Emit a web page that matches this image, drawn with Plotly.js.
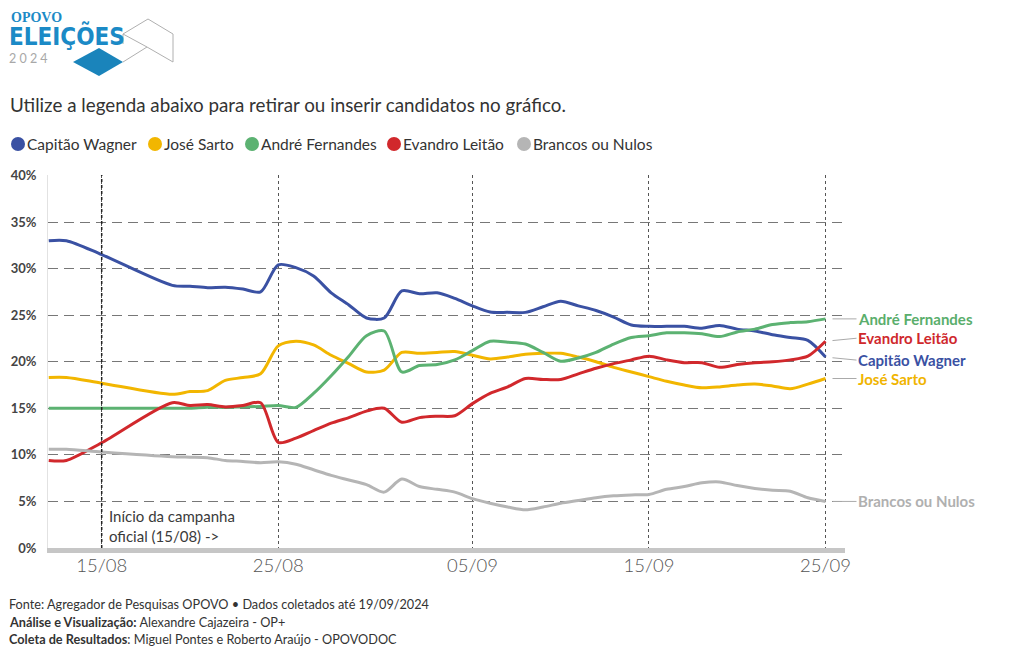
<!DOCTYPE html>
<html><head><meta charset="utf-8">
<script src="https://cdn.plot.ly/plotly-3.0.1.min.js"></script>
<style>html,body{margin:0;padding:0;background:#fff}#chart{width:1020px;height:650px}</style>
</head><body><div id="chart"></div>
<script>
// ---------- DATA ----------
const dates = ['2024-08-12','2024-08-13','2024-08-15','2024-08-19','2024-08-20','2024-08-21','2024-08-22','2024-08-23','2024-08-24','2024-08-25','2024-08-26','2024-08-27','2024-08-28','2024-08-29','2024-08-30','2024-08-31','2024-09-01','2024-09-02','2024-09-03','2024-09-04','2024-09-05','2024-09-06','2024-09-07','2024-09-08','2024-09-09','2024-09-10','2024-09-11','2024-09-12','2024-09-13','2024-09-14','2024-09-15','2024-09-16','2024-09-17','2024-09-18','2024-09-19','2024-09-20','2024-09-21','2024-09-22','2024-09-23','2024-09-24','2024-09-25'];
const capitaoWagner = [33.0,33.0,31.5,28.2,28.1,27.95,28.0,27.8,27.5,30.4,30.1,29.2,27.4,26.1,24.7,24.7,27.6,27.3,27.4,26.8,26.0,25.35,25.3,25.3,25.9,26.5,26.0,25.5,24.8,23.95,23.8,23.8,23.8,23.6,23.9,23.5,23.3,22.9,22.6,22.3,20.5];
const joseSarto = [18.3,18.3,17.7,16.5,16.8,16.9,18.0,18.3,18.7,21.7,22.2,21.8,20.7,19.8,18.9,19.1,21.0,20.9,21.0,21.1,20.7,20.3,20.5,20.8,20.9,20.9,20.5,20.0,19.4,18.9,18.4,17.9,17.5,17.2,17.3,17.5,17.6,17.4,17.1,17.6,18.2];
const andreFernandes = [15.0,15.0,15.0,15.0,15.0,15.1,15.1,15.15,15.2,15.3,15.1,16.6,18.5,20.6,22.8,23.3,18.9,19.6,19.7,20.2,21.2,22.2,22.1,21.9,21.0,20.05,20.4,21.0,21.9,22.6,22.8,23.1,23.1,23.0,22.7,23.2,23.5,24.0,24.2,24.3,24.6];
const evandroLeitao = [9.4,9.4,11.3,15.6,15.3,15.4,15.15,15.3,15.6,11.35,11.8,12.6,13.4,14.0,14.7,15.0,13.5,14.0,14.15,14.2,15.5,16.6,17.3,18.2,18.1,18.1,18.7,19.3,19.8,20.2,20.6,20.2,19.9,19.9,19.4,19.7,19.9,20.0,20.2,20.6,22.2];
const brancosNulos = [10.6,10.6,10.3,9.8,9.75,9.7,9.4,9.3,9.15,9.25,9.0,8.4,7.8,7.3,6.8,6.0,7.4,6.6,6.3,6.0,5.3,4.8,4.4,4.1,4.4,4.8,5.1,5.4,5.6,5.7,5.75,6.3,6.6,7.0,7.1,6.7,6.4,6.2,6.1,5.4,5.0];

const seriesNames = ['Capitão Wagner','José Sarto','André Fernandes','Evandro Leitão','Brancos ou Nulos'];
const seriesValues = [capitaoWagner, joseSarto, andreFernandes, evandroLeitao, brancosNulos];
const seriesColors = ['#3a51a3','#f2b600','#5cb272','#d1282c','#b5b5b5'];
const labelColors = ['#3a51a3','#f0b400','#5aae6c','#cf282c','#b0b0b0'];
const labelShift = [-3, 0, 0, 3, 0]; // pixel nudges of end labels (positive = up)

const tickDates = ['2024-08-15','2024-08-25','2024-09-05','2024-09-15','2024-09-25'];
const tickLabels = ['15/08','25/08','05/09','15/09','25/09'];
const campaignStart = '2024-08-15';

const subtitle = 'Utilize a legenda abaixo para retirar ou inserir candidatos no gráfico.';
const campaignNote = 'Início da campanha<br>oficial (15/08) ->';
const footer = [
  'Fonte: Agregador de Pesquisas OPOVO • Dados coletados até 19/09/2024',
  '<b>Análise e Visualização:</b> Alexandre Cajazeira - OP+',
  '<b>Coleta de Resultados</b>: Miguel Pontes e Roberto Araújo - OPOVODOC'
];

// ---------- LAYOUT HELPERS ----------
const FONT = 'Lato, "Noto Sans", sans-serif';
const L = 48, R = 845, T = 175, B = 548;
const px = x => (x - L) / (R - L);
const py = y => (B - y) / (B - T);
const ADX = -3;                       // annotation text inset compensation (px)
const legendX = [18, 155, 252, 394, 524]; // legend dot centres (px)
const legendY = 144;

const traces = seriesNames.map((name, i) => ({
  type: 'scatter', mode: 'lines', name: name, x: dates, y: seriesValues[i],
  line: {color: seriesColors[i], width: 3, shape: 'spline', smoothing: 0.8},
  showlegend: false,
  hovertemplate: name + ': %{y:.1f}%<extra></extra>'
}));

const annotations = [];
const shapes = [];
const endLabelIdx = [], legendTextIdx = [], legendDotIdx = [];

// end labels
seriesNames.forEach((name, i) => {
  const vals = seriesValues[i];
  endLabelIdx.push(annotations.length);
  annotations.push({
    x: dates[dates.length - 1], y: vals[vals.length - 1], xref: 'x', yref: 'y',
    text: '<b>' + name + '</b>', showarrow: true, arrowhead: 0, arrowwidth: 1,
    arrowcolor: '#aaaaaa', ax: 31, ay: -labelShift[i], standoff: 7,
    xanchor: 'left', yanchor: 'middle', borderpad: 0,
    font: {family: FONT, size: 15, color: labelColors[i]}
  });
});
// custom legend (clickable)
seriesNames.forEach((name, i) => {
  legendDotIdx.push(shapes.length);
  shapes.push({type: 'circle', xref: 'paper', yref: 'paper',
    x0: px(legendX[i] - 7), x1: px(legendX[i] + 7), y0: py(legendY + 7), y1: py(legendY - 7),
    fillcolor: seriesColors[i], line: {width: 0}});
  legendTextIdx.push(annotations.length);
  annotations.push({x: px(legendX[i] + 10), y: py(legendY), xref: 'paper', yref: 'paper', xshift: ADX,
    text: name, showarrow: false, xanchor: 'left', yanchor: 'middle', captureevents: true,
    font: {family: FONT, size: 15.5, color: '#333'}});
});
// campaign note
annotations.push({
  x: campaignStart, y: py(526), xref: 'x', yref: 'paper', xshift: 8 + ADX,
  text: campaignNote, showarrow: false, xanchor: 'left', yanchor: 'middle', align: 'left',
  font: {family: FONT, size: 15, color: '#3a3a3a'}
});
// footer
footer.forEach((t, k) => {
  annotations.push({
    x: px(10), y: py(604 + k * 17.5), xref: 'paper', yref: 'paper', xshift: ADX, text: t, showarrow: false,
    xanchor: 'left', yanchor: 'middle', align: 'left',
    font: {family: FONT, size: 12.7, color: '#333'}
  });
});
// logo text
annotations.push({x: px(12), y: py(18), xref: 'paper', yref: 'paper', xshift: ADX, text: '<b>OPOVO</b>', showarrow: false,
  xanchor: 'left', yanchor: 'middle', font: {family: '"Liberation Serif", "DejaVu Serif", serif', size: 14, color: '#1b8ac6'}});
annotations.push({x: px(10), y: py(35.5), xref: 'paper', yref: 'paper', xshift: ADX, text: '<b>ELEIÇÕES</b>', showarrow: false,
  xanchor: 'left', yanchor: 'middle', font: {family: '"Liberation Sans Narrow", "DejaVu Sans Condensed", Roboto, sans-serif', size: 24, color: '#1b8ac6'}});
annotations.push({x: px(10), y: py(58), xref: 'paper', yref: 'paper', xshift: ADX, text: '2 0 2 4', showarrow: false,
  xanchor: 'left', yanchor: 'middle', font: {family: FONT, size: 12.5, color: '#a8a8a8'}});

const P = (pts, close) => pts.map((p, k) => (k ? 'L ' : 'M ') + px(p[0]) + ' ' + py(p[1])).join(' ') + (close ? ' Z' : '');

shapes.push(
  {type: 'line', xref: 'x', yref: 'paper', x0: campaignStart, x1: campaignStart, y0: 0, y1: 1,
   line: {color: '#222', width: 1.5, dash: 'dot'}, layer: 'above'},
  {type: 'path', xref: 'paper', yref: 'paper', path: P([[73,62],[99,48],[123,62],[99,76]], true),
   fillcolor: '#1a84bb', line: {width: 0}},
  {type: 'path', xref: 'paper', yref: 'paper',
   path: P([[123,44],[123,34],[148,19],[173,34],[173,62],[147,47],[123,34]]) + ' ' + P([[147,47],[123,62]]),
   line: {color: '#b0b0b0', width: 1}}
);

const layout = {
  width: 1020, height: 650,
  margin: {l: L, r: 1020 - R, t: T, b: 650 - B, pad: 0},
  paper_bgcolor: '#fff', plot_bgcolor: '#fff',
  font: {family: FONT, color: '#333'},
  title: {text: subtitle, x: 10 / 1020, xanchor: 'left', xref: 'container', yref: 'container',
          y: 1 - 105 / 650, yanchor: 'middle', font: {family: FONT, size: 18.8, color: '#333'}},
  showlegend: false,
  hovermode: 'x unified',
  xaxis: {type: 'date', range: ['2024-08-11 23:00', '2024-09-26 02:30'],
          tickvals: tickDates, ticktext: tickLabels,
          showgrid: true, gridcolor: '#555', gridwidth: 1, griddash: '3px,3px',
          showline: true, linecolor: '#c6c6c6', linewidth: 5,
          ticks: '', ticklabelstandoff: -3,
          tickfont: {family: FONT, size: 18.5, color: '#555', weight: 300}, zeroline: false, fixedrange: true},
  yaxis: {range: [0, 40.05], dtick: 5, tick0: 0, ticksuffix: '%',
          showgrid: true, gridcolor: '#777', gridwidth: 1, griddash: '10px,6px',
          showline: true, linecolor: '#e2e2e2', linewidth: 1, zeroline: false,
          ticks: '', ticklabelstandoff: 8,
          tickfont: {family: FONT, size: 13, color: '#444', weight: 'bold'}, fixedrange: true},
  annotations: annotations,
  shapes: shapes
};

Plotly.newPlot('chart', traces, layout, {displayModeBar: false, responsive: false}).then(gd => {
  const shown = seriesNames.map(() => true);
  gd.on('plotly_clickannotation', ev => {
    const i = legendTextIdx.indexOf(ev.index);
    if (i < 0) return;
    shown[i] = !shown[i];
    Plotly.restyle(gd, {visible: shown[i] ? true : false}, [i]);
    const upd = {};
    upd['annotations[' + legendTextIdx[i] + '].opacity'] = shown[i] ? 1 : 0.4;
    upd['annotations[' + endLabelIdx[i] + '].visible'] = shown[i];
    upd['shapes[' + legendDotIdx[i] + '].opacity'] = shown[i] ? 1 : 0.4;
    Plotly.relayout(gd, upd);
  });
});
</script>
</body></html>
